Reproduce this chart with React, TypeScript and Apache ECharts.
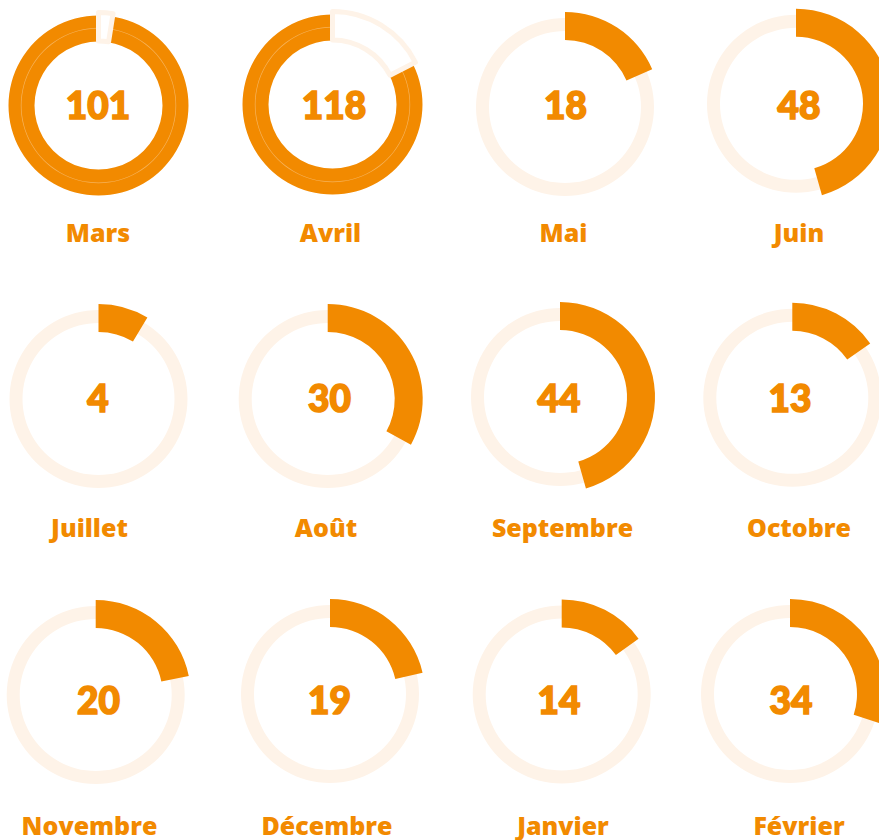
import React, { useEffect, useRef } from "react";
import * as echarts from "echarts";

// ---- data ----
const months = ["Mars", "Avril", "Mai", "Juin", "Juillet", "Août", "Septembre", "Octobre", "Novembre", "Décembre", "Janvier", "Février"];
const counts = [101, 118, 18, 48, 4, 30, 44, 13, 20, 19, 14, 34];
// share of a full turn filled by the orange arc, in percent
const arcPercent = [102.5, 117.5, 18.5, 45.6, 8.6, 33, 45.6, 15.3, 21.8, 21.4, 15, 30];

// ---- layout ----
const centerX = [98.5, 332.5, 565, 796, 98.5, 327.7, 560, 792.3, 95.7, 330, 561.7, 790];
const centerY = [105.5, 104.5, 107, 103.8, 399, 399, 397, 397.8, 695, 694, 694.5, 694];
const numberX = [98, 334, 565.5, 799, 98, 329.5, 559, 790, 98.5, 329.5, 559, 791];
const numberY = [104, 104, 104, 104, 397, 397, 397, 397, 699, 699, 699, 699];
const labelX = [98, 330.5, 563.5, 799, 89.5, 326, 562.5, 799, 89.5, 327, 563, 799];
const labelY = [232, 232, 232, 232, 527, 527, 527, 527, 825, 825, 825, 825];

const ORANGE = "#F28A00";
const CREAM = "#FEF3E8";

export default function App() {
  const ref = useRef<HTMLDivElement>(null);
  useEffect(() => {
    if (!ref.current) return;
    const chart = echarts.init(ref.current, undefined, { renderer: "svg" });
    const series: any[] = [];
    const graphics: any[] = [];
    const base = {
      type: "pie",
      silent: true,
      animation: false,
      label: { show: false },
      labelLine: { show: false },
      emphasis: { disabled: true },
      startAngle: 90,
      clockwise: true,
    };
    months.forEach((m, i) => {
      const center = [centerX[i], centerY[i]];
      const pct = arcPercent[i];
      if (pct <= 100) {
        series.push({
          ...base,
          center,
          radius: [76, 89],
          data: [{ value: 100, itemStyle: { color: CREAM, borderWidth: 0 } }],
        });
        series.push({
          ...base,
          center,
          radius: [67, 95],
          data: [
            { value: pct, itemStyle: { color: ORANGE, borderWidth: 0 } },
            { value: 100 - pct, itemStyle: { color: "rgba(0,0,0,0)", borderWidth: 0 } },
          ],
        });
      } else {
        const extra = pct - 100;
        series.push({
          ...base,
          center,
          radius: [64, 90],
          data: [{ value: 100, itemStyle: { color: ORANGE, borderWidth: 0 } }],
        });
        series.push({
          ...base,
          center,
          radius: [77, 77.7],
          data: [{ value: 100, itemStyle: { color: "rgba(255,255,255,0.35)", borderWidth: 0 } }],
        });
        series.push({
          ...base,
          center,
          radius: [64.5, 93],
          data: [
            { value: extra, itemStyle: { color: "#ffffff", borderColor: CREAM, borderWidth: 5 } },
            { value: 100 - extra, itemStyle: { color: "rgba(0,0,0,0)", borderWidth: 0 } },
          ],
        });
      }
      graphics.push({
        type: "text",
        x: numberX[i],
        y: numberY[i],
        silent: true,
        style: {
          text: String(counts[i]),
          fill: ORANGE,
          stroke: ORANGE,
          lineWidth: 1.6,
          font: `900 37px Lato, sans-serif`,
          textAlign: "center",
          textVerticalAlign: "middle",
        },
      });
      graphics.push({
        type: "text",
        x: labelX[i],
        y: labelY[i],
        silent: true,
        style: {
          text: m,
          fill: ORANGE,
          font: `800 25px 'Open Sans', Lato, sans-serif`,
          textAlign: "center",
          textVerticalAlign: "middle",
        },
      });
    });
    chart.setOption({
      animation: false,
      backgroundColor: "#ffffff",
      series,
      graphic: graphics,
    });
    return () => chart.dispose();
  }, []);
  return (
    <div
      ref={ref}
      style={{ position: "absolute", left: 0, top: 0, width: 879, height: 840 }}
    />
  );
}
